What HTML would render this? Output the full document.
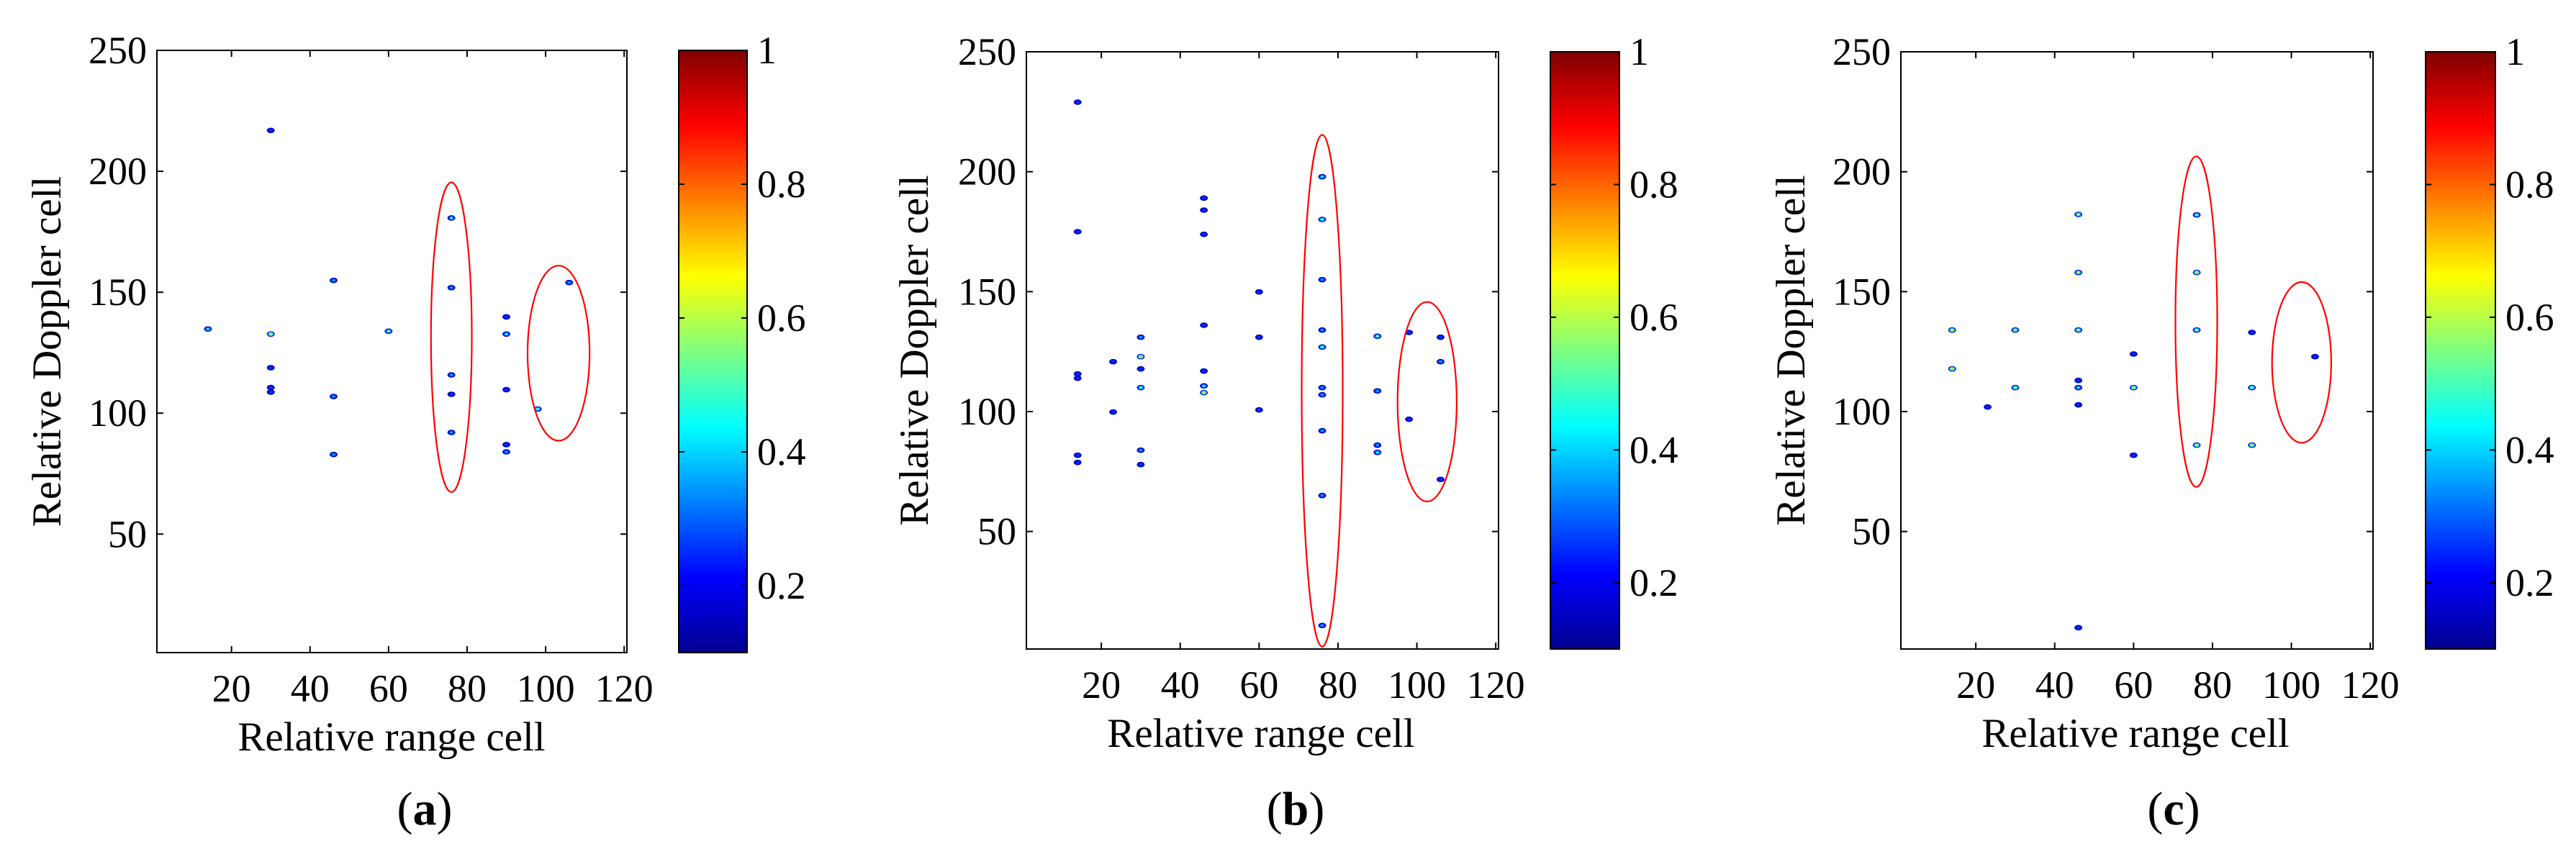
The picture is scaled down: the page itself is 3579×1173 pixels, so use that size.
<!DOCTYPE html>
<html><head><meta charset="utf-8"><style>
html,body{margin:0;padding:0;background:#fff;}
svg{display:block;font-family:"Liberation Serif",serif;}
</style></head><body>
<svg id="fig" width="3579" height="1173" viewBox="0 0 3579 1173" xmlns="http://www.w3.org/2000/svg">
<defs>
<linearGradient id="jet" x1="0" y1="1" x2="0" y2="0">
<stop offset="0" stop-color="#00008f"/><stop offset="0.125" stop-color="#0000ff"/><stop offset="0.375" stop-color="#00ffff"/><stop offset="0.625" stop-color="#ffff00"/><stop offset="0.875" stop-color="#ff0000"/><stop offset="1" stop-color="#800000"/>
</linearGradient>
</defs>
</svg>
<script>
// Panel (a)
const aX=[14,30,30,30,30,30,46,46,46,60,76,76,76,76,76,90,90,90,90,90,98,106];
const aY=[134.8,216.9,132.7,118.8,110.6,108.7,154.9,106.9,82.9,133.9,180.7,151.9,115.8,107.8,92,139.8,132.7,109.7,87,84,101.7,154];
const aV=[0.5,0.3,0.75,0.3,0.3,0.3,0.4,0.4,0.35,0.55,0.45,0.35,0.4,0.3,0.4,0.3,0.5,0.3,0.3,0.4,0.55,0.35];
const aEll=[[76,131.4,5.2,64],[103.3,124.8,7.9,36.2]];
// Panel (b)
const bX=[14,14,14,14,14,14,23,23,30,30,30,30,30,30,46,46,46,46,46,46,46,60,60,60,76,76,76,76,76,76,76,76,76,76,90,90,90,90,98,98,106,106,106];
const bY=[229,175,115.7,113.9,81.8,78.8,120.8,99.8,131,122.9,117.8,110,83.9,77.9,189,184,173.9,136,116.9,110.7,107.9,149.9,131,100.7,197.9,180.1,155,134,126.9,110,107,92,65,10.8,131.4,108.6,86,83,133,96.8,131,120.8,71.7];
const bV=[0.3,0.3,0.3,0.3,0.3,0.3,0.3,0.3,0.35,0.75,0.3,0.6,0.35,0.3,0.3,0.3,0.3,0.3,0.3,0.45,0.75,0.3,0.3,0.3,0.45,0.55,0.35,0.35,0.55,0.35,0.4,0.35,0.35,0.35,0.6,0.35,0.35,0.5,0.3,0.3,0.3,0.35,0.3];
const bEll=[[76,108.7,5.2,106.7],[102.6,104.1,7.5,41.6]];
// Panel (c)
const cX=[14,14,23,30,30,46,46,46,46,46,46,46,60,60,60,76,76,76,76,90,90,90,106];
const cY=[134,117.8,101.9,134,110,182.2,158,134,113,110,102.8,9.9,124,110,81.8,182,158,134,86,133,110,86,122.9];
const cV=[0.75,0.75,0.25,0.7,0.7,0.7,0.7,0.7,0.25,0.5,0.25,0.25,0.25,0.75,0.25,0.6,0.75,0.7,0.75,0.25,0.7,0.75,0.25];
const cEll=[[75.9,137.5,5.3,68.9],[102.6,120.5,7.5,33.5]];
const xTicks=[20,40,60,80,100,120];
const yTicks=[50,100,150,200,250];
const cTicks=[0.2,0.4,0.6,0.8,1];
const cLabels=['0.2','0.4','0.6','0.8','1'];

const svg=document.getElementById('fig');
const NS='http://www.w3.org/2000/svg';
function mk(tag,attrs,parent){const e=document.createElementNS(NS,tag);for(const k in attrs)e.setAttribute(k,attrs[k]);(parent||svg).appendChild(e);return e;}
function jet(v){const t=(v-0.1)/0.9;const r=Math.max(0,Math.min(1,Math.min(4*t-1.5,-4*t+4.5)));const g=Math.max(0,Math.min(1,Math.min(4*t-0.5,-4*t+3.5)));const b=Math.max(0,Math.min(1,Math.min(4*t+0.5,-4*t+2.5)));return `rgb(${Math.round(r*255)},${Math.round(g*255)},${Math.round(b*255)})`;}

const panels=[
 {id:'a',L:218,R:871,T:70,B:907,cbL:943,cbR:1038,ylx:64,xlx:544,capx:590,xs:aX,ys:aY,vs:aV,ell:aEll},
 {id:'b',L:1426,R:2082,T:72,B:902,cbL:2154,cbR:2250,ylx:1269,xlx:1752,capx:1800,xs:bX,ys:bY,vs:bV,ell:bEll},
 {id:'c',L:2641,R:3297,T:72,B:902,cbL:3370,cbR:3467,ylx:2487,xlx:2967,capx:3020,xs:cX,ys:cY,vs:cV,ell:cEll}
];
panels.forEach(p=>{
 const g=mk('g',{});
 
 
 const xmin=1,xmax=120.7,ymin=1,ymax=250;
 const sx=v=>p.L+(v-xmin)/(xmax-xmin)*(p.R-p.L);
 const sy=v=>p.B-(v-ymin)/(ymax-ymin)*(p.B-p.T);
 const sxr=d=>d/(xmax-xmin)*(p.R-p.L), syr=d=>d/(ymax-ymin)*(p.B-p.T);
 // dots
 p.xs.forEach((x,i)=>{
  const v=p.vs[i],cx=sx(x),cy=sy(p.ys[i]);
  const dg=mk('g',{},g);
  
  
  const levels=[0.15,0.25,0.35,0.45,0.55,0.65,0.75].filter(l=>l<=v+0.001);
  levels.forEach((l,k)=>{const f=1-k/(levels.length+0.5);mk('ellipse',{cx:cx,cy:cy,rx:5.5*f,ry:3.8*f,fill:jet(l)},dg);});
 });
 // red ellipses
 p.ell.forEach(e=>{
  const el=mk('ellipse',{cx:sx(e[0]),cy:sy(e[1]),rx:sxr(e[2]),ry:syr(e[3]),fill:'none',stroke:'#ff0000','stroke-width':2.2},g);
  
  
 });
 // axes box
 const box=mk('rect',{x:p.L,y:p.T,width:p.R-p.L,height:p.B-p.T,fill:'none',stroke:'#000','stroke-width':2},g);
 
 
 xTicks.forEach(t=>{
  const X=sx(t);
  mk('line',{x1:X,x2:X,y1:p.B,y2:p.B-9,stroke:'#000','stroke-width':2},g);
  mk('line',{x1:X,x2:X,y1:p.T,y2:p.T+9,stroke:'#000','stroke-width':2},g);
  const tx=mk('text',{x:X,y:p.B+68,'font-size':54,'text-anchor':'middle'},g);tx.textContent=t;
  
  
 });
 yTicks.forEach(t=>{
  const Y=sy(t);
  mk('line',{x1:p.L,x2:p.L+9,y1:Y,y2:Y,stroke:'#000','stroke-width':2},g);
  mk('line',{x1:p.R,x2:p.R-9,y1:Y,y2:Y,stroke:'#000','stroke-width':2},g);
  const ty=mk('text',{x:p.L-14,y:Y+18,'font-size':54,'text-anchor':'end'},g);ty.textContent=t;
  
  
 });
 const xl=mk('text',{x:p.xlx,y:p.B+136,'font-size':57,'text-anchor':'middle'},g);xl.textContent='Relative range cell';
 
 
 const ym=(p.T+p.B)/2;
 const yl=mk('text',{x:p.ylx+20,y:ym,'font-size':57,'text-anchor':'middle',transform:`rotate(-90 ${p.ylx+20} ${ym})`},g);yl.textContent='Relative Doppler cell';
 
 
 // colorbar
 const cb=mk('rect',{x:p.cbL,y:p.T,width:p.cbR-p.cbL,height:p.B-p.T,fill:'url(#jet)',stroke:'#000','stroke-width':2},g);
 
 
 const cy=v=>p.B-(v-0.1)/0.9*(p.B-p.T);
 cTicks.forEach((t,i)=>{
  const Y=cy(t);
  mk('line',{x1:p.cbL,x2:p.cbL+8,y1:Y,y2:Y,stroke:'#000','stroke-width':2},g);
  mk('line',{x1:p.cbR,x2:p.cbR-8,y1:Y,y2:Y,stroke:'#000','stroke-width':2},g);
  const ct=mk('text',{x:p.cbR+14,y:Y+18,'font-size':54},g);ct.textContent=cLabels[i];
  
  
 });
 const cap=mk('text',{x:p.capx,y:1146,'font-size':66,'text-anchor':'middle'},g);
 
 
 const s1=mk('tspan',{},cap);s1.textContent='(';
 const s2=mk('tspan',{'font-weight':'bold'},cap);s2.textContent=p.id;
 const s3=mk('tspan',{},cap);s3.textContent=')';
});
</script>
</body></html>
